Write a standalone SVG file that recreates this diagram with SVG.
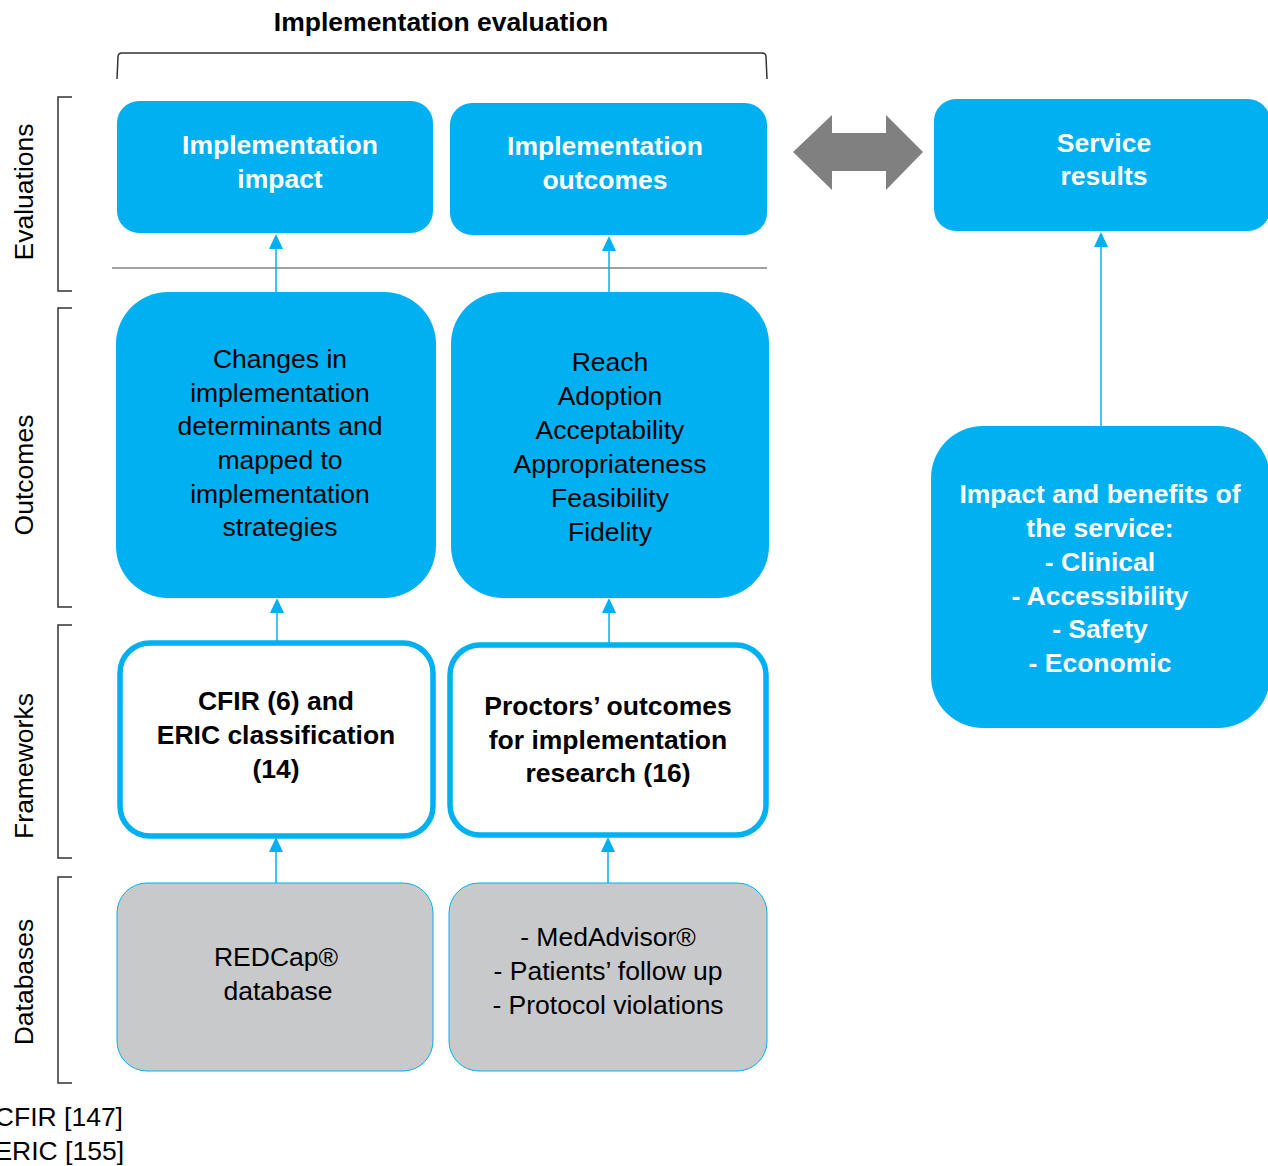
<svg xmlns="http://www.w3.org/2000/svg" width="1268" height="1166" viewBox="0 0 1268 1166">
  <style>
    text { font-family: "Liberation Sans", Arial, sans-serif; font-size: 26.5px; text-anchor: middle; }
    .hd { font-weight: bold; fill: #ffffff; }
    .bd { fill: #000000; }
    .bb { font-weight: bold; fill: #000000; }
    .solid { fill: #00B0F0; }
    .frame { fill: #ffffff; stroke: #00B0F0; stroke-width: 5.5; }
    .db { fill: #C8C9CB; stroke: #00B0F0; stroke-width: 1; }
    .brk { fill: none; stroke: #333333; stroke-width: 1.5; }
    .side { text-anchor: middle; fill: #000000; }
    .conn line { stroke: #00B0F0; stroke-width: 1.5; }
    .conn polygon { fill: #00B0F0; }
  </style>

  <!-- Title and top bracket -->
  <text x="441" y="31" class="bb">Implementation evaluation</text>
  <path class="brk" d="M117,79 L118,57 Q118,53 122,53 L762,53 Q766,53 766,57 L767,79"/>

  <!-- Left-side row brackets -->
  <g id="row-labels">
    <path class="brk" d="M72,97 L58,97 L58,291 L72,291"/>
    <path class="brk" d="M72,308 L58,308 L58,607 L72,607"/>
    <path class="brk" d="M72,625 L58,625 L58,858 L72,858"/>
    <path class="brk" d="M72,877 L58,877 L58,1083 L72,1083"/>
    <text class="side" transform="translate(33,192) rotate(-90)">Evaluations</text>
    <text class="side" transform="translate(33,475) rotate(-90)">Outcomes</text>
    <text class="side" transform="translate(33,766) rotate(-90)">Frameworks</text>
    <text class="side" transform="translate(33,982) rotate(-90)">Databases</text>
  </g>

  <!-- Separator between evaluations and outcomes -->
  <line x1="112" y1="268" x2="767" y2="268" stroke="#808080" stroke-width="1.5"/>

  <!-- Evaluations row -->
  <g id="impl-impact">
    <rect class="solid" x="117" y="101" width="316" height="132" rx="22"/>
    <text class="hd" x="280" y="154">Implementation</text>
    <text class="hd" x="280" y="188">impact</text>
  </g>
  <g id="impl-outcomes">
    <rect class="solid" x="450" y="103" width="317" height="132" rx="22"/>
    <text class="hd" x="605" y="155">Implementation</text>
    <text class="hd" x="605" y="189">outcomes</text>
  </g>
  <g id="service-results">
    <rect class="solid" x="934" y="99" width="336" height="132" rx="22"/>
    <text class="hd" x="1104" y="152">Service</text>
    <text class="hd" x="1104" y="185">results</text>
  </g>

  <!-- Two-way arrow between evaluation and service results -->
  <polygon points="793,152 832,115 832,133 886,133 886,115 923,152 886,190 886,171 832,171 832,190" fill="#808080"/>

  <!-- Outcomes row -->
  <g id="determinant-changes">
    <rect class="solid" x="116" y="292" width="320" height="306" rx="52"/>
    <text class="bd" x="280" y="368">Changes in</text>
    <text class="bd" x="280" y="402">implementation</text>
    <text class="bd" x="280" y="435">determinants and</text>
    <text class="bd" x="280" y="469">mapped to</text>
    <text class="bd" x="280" y="503">implementation</text>
    <text class="bd" x="280" y="536">strategies</text>
  </g>
  <g id="outcome-list">
    <rect class="solid" x="451" y="292" width="318" height="306" rx="52"/>
    <text class="bd" x="610" y="371">Reach</text>
    <text class="bd" x="610" y="405">Adoption</text>
    <text class="bd" x="610" y="439">Acceptability</text>
    <text class="bd" x="610" y="473">Appropriateness</text>
    <text class="bd" x="610" y="507">Feasibility</text>
    <text class="bd" x="610" y="541">Fidelity</text>
  </g>
  <g id="service-benefits">
    <rect class="solid" x="931" y="426" width="339" height="302" rx="52"/>
    <text class="hd" x="1100" y="503">Impact and benefits of</text>
    <text class="hd" x="1100" y="537">the service:</text>
    <text class="hd" x="1100" y="571">- Clinical</text>
    <text class="hd" x="1100" y="605">- Accessibility</text>
    <text class="hd" x="1100" y="638">- Safety</text>
    <text class="hd" x="1100" y="672">- Economic</text>
  </g>

  <!-- Frameworks row -->
  <g id="cfir-eric">
    <rect class="frame" x="120" y="643" width="313" height="193" rx="30"/>
    <text class="bb" x="276" y="710">CFIR (6) and</text>
    <text class="bb" x="276" y="744">ERIC classification</text>
    <text class="bb" x="276" y="778">(14)</text>
  </g>
  <g id="proctor">
    <rect class="frame" x="450" y="645" width="316" height="190" rx="30"/>
    <text class="bb" x="608" y="715">Proctors’ outcomes</text>
    <text class="bb" x="608" y="749">for implementation</text>
    <text class="bb" x="608" y="782">research (16)</text>
  </g>

  <!-- Databases row -->
  <g id="redcap">
    <rect class="db" x="117" y="883" width="316" height="188" rx="30"/>
    <text class="bd" x="276" y="966">REDCap®</text>
    <text class="bd" x="278" y="1000">database</text>
  </g>
  <g id="medadvisor">
    <rect class="db" x="449" y="883" width="318" height="188" rx="30"/>
    <text class="bd" x="608" y="946">- MedAdvisor®</text>
    <text class="bd" x="608" y="980">- Patients’ follow up</text>
    <text class="bd" x="608" y="1014">- Protocol violations</text>
  </g>

  <!-- Upward connectors -->
  <g id="connectors" class="conn">
    <line x1="276" y1="292" x2="276" y2="248"/>
    <polygon points="276,234 269,249 283,249"/>
    <line x1="609" y1="292" x2="609" y2="250"/>
    <polygon points="609,236 602,251 616,251"/>
    <line x1="277" y1="641" x2="277" y2="612"/>
    <polygon points="277,598 270,613 284,613"/>
    <line x1="609" y1="643" x2="609" y2="612"/>
    <polygon points="609,598 602,613 616,613"/>
    <line x1="276" y1="883" x2="276" y2="851"/>
    <polygon points="276,837 269,852 283,852"/>
    <line x1="608" y1="883" x2="608" y2="851"/>
    <polygon points="608,837 601,852 615,852"/>
    <line x1="1101" y1="426" x2="1101" y2="246"/>
    <polygon points="1101,232 1094,247 1108,247"/>
  </g>

  <!-- References -->
  <text class="bd" x="123" y="1126" style="text-anchor:end">CFIR [147]</text>
  <text class="bd" x="124" y="1160" style="text-anchor:end">ERIC [155]</text>
</svg>
